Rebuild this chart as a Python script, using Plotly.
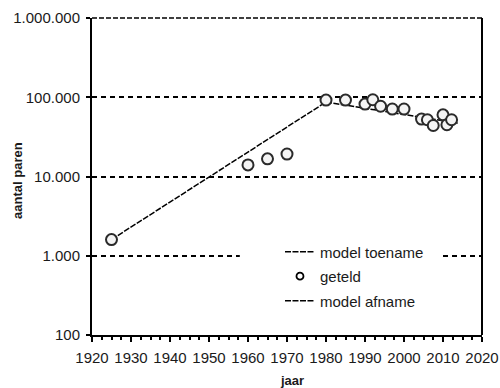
import plotly.graph_objects as go

# Data
tel_jaar = [1925, 1960, 1965, 1970, 1980, 1985, 1990, 1992, 1994, 1997, 2000,
            2004.5, 2006, 2007.5, 2010, 2011, 2012.2]
tel_paren = [1600, 14000, 16700, 19200, 92000, 92000, 82000, 93000, 77000, 71000, 71000,
             53000, 52000, 44000, 60000, 45000, 52000]

toename_jaar = [1925, 1980]
toename_paren = [1600, 87000]
afname_jaar = [1980, 2014]
afname_paren = [87000, 47000]

y_tickvals = [100, 1000, 10000, 100000, 1000000]
y_ticktext = ["100", "1.000", "10.000", "100.000", "1.000.000"]

FONT = "Liberation Sans, Arial, sans-serif"
TXT = "#1a1a1a"

fig = go.Figure()
fig.add_trace(go.Scatter(
    x=toename_jaar, y=toename_paren, mode="lines", name="model toename",
    line=dict(color="black", width=1.5, dash="6px,1.5px"),
    legendgroup="a", legendrank=1))
fig.add_trace(go.Scatter(
    x=afname_jaar, y=afname_paren, mode="lines", name="model afname",
    line=dict(color="black", width=1.5, dash="6px,1.5px"),
    legendgroup="c", legendrank=3))
fig.add_trace(go.Scatter(
    x=tel_jaar, y=tel_paren, mode="markers", name="geteld",
    marker=dict(symbol="circle", size=11, color="#f4f4f4",
                line=dict(color="#2a2a2a", width=2)),
    showlegend=False))
# legend-only entry with the smaller legend symbol
fig.add_trace(go.Scatter(
    x=[None], y=[None], mode="markers", name="geteld",
    marker=dict(symbol="circle", size=7, color="white",
                line=dict(color="black", width=1.8)),
    legendgroup="b", legendrank=2))

fig.update_layout(
    width=500, height=388,
    margin=dict(l=92, r=18, t=18, b=53),
    paper_bgcolor="white", plot_bgcolor="white",
    font=dict(family=FONT, size=15, color=TXT),
    showlegend=True,
    legend=dict(x=0.482, y=0.314, xanchor="left", yanchor="top",
                bgcolor="rgba(0,0,0,0)", borderwidth=0,
                font=dict(family=FONT, size=15, color=TXT),
                tracegroupgap=2),
    xaxis=dict(range=[1920, 2020], dtick=10, tick0=1920, automargin=False,
               showline=True, linecolor="black", linewidth=2,
               ticks="outside", ticklen=5, tickwidth=2, tickcolor="black",
               minor=dict(dtick=2.5, ticks="outside", ticklen=3, tickcolor="black", tickwidth=1.5),
               showgrid=False, zeroline=False,
               tickfont=dict(size=15, color=TXT), ticklabelstandoff=3),
    yaxis=dict(type="log", range=[2, 6], tickvals=y_tickvals, ticktext=y_ticktext,
               automargin=False,
               showline=True, linecolor="black", linewidth=2,
               ticks="outside", ticklen=4, tickwidth=1.5, tickcolor="black",
               showgrid=True, gridcolor="black", gridwidth=1.5, griddash="5px,4px",
               zeroline=False, tickfont=dict(size=15, color=TXT), ticklabelstandoff=3),
    annotations=[
        dict(text="<b>jaar</b>", xref="paper", yref="paper", x=0.514, y=-0.145,
             xanchor="center", yanchor="middle", showarrow=False,
             font=dict(size=13, color=TXT)),
        dict(text="<b>aantal paren</b>", xref="paper", yref="paper", x=-0.19, y=0.489,
             xanchor="center", yanchor="middle", textangle=-90, showarrow=False,
             font=dict(size=13, color=TXT)),
    ],
)
# white legend box interrupting the gridline
fig.add_shape(type="rect", xref="paper", yref="paper", x0=0.379, x1=0.897, y0=0.08, y1=0.30,
              fillcolor="white", line=dict(width=0), layer="above")
# top dashed line at 1.000.000 (edge gridline) and solid right border
fig.add_shape(type="line", xref="paper", yref="paper", x0=0, x1=1, y0=1, y1=1,
              line=dict(color="black", width=1.5, dash="5px,2px"))
fig.add_shape(type="line", xref="paper", yref="paper", x0=1, x1=1, y0=0, y1=1,
              line=dict(color="black", width=2))

fig.write_html("out.html")
